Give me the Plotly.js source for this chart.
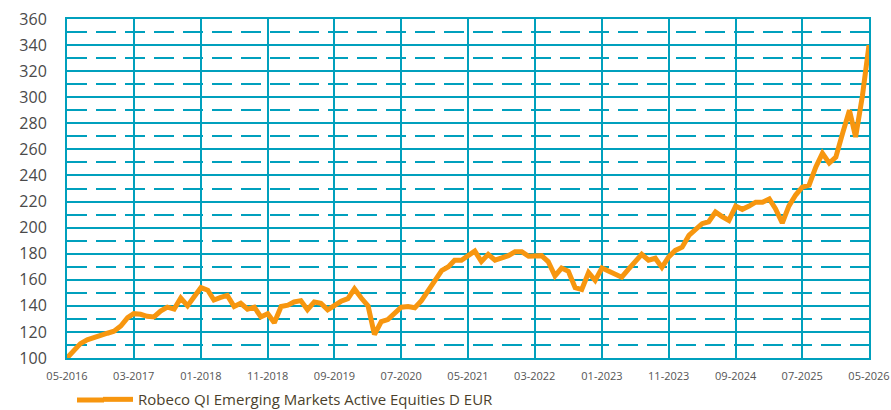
<!DOCTYPE html>
<html>
<head>
<meta charset="utf-8">
<script src="https://cdn.plot.ly/plotly-3.0.1.min.js"></script>
<style>
html,body{margin:0;padding:0;background:#fff;}
#chart{width:891px;height:410px;}
</style>
</head>
<body>
<div id="chart"></div>
<script>
// Monthly index values, 05-2016 .. 05-2026
const seriesName = "Robeco QI Emerging Markets Active Equities D EUR";
const values = [
  100, 106, 111, 114, 116, 117.5, 119, 120.5, 124.5, 131,
  134, 133.5, 132, 131.5, 136, 139, 137.5, 146, 140, 147,
  154, 152, 144.5, 146.5, 148, 139.5, 142, 137.5, 139, 131.5,
  134, 127, 139.5, 140.5, 143, 144, 137, 143, 142, 137,
  140.5, 143.5, 145.5, 153, 146, 140, 118, 128, 129.5, 135,
  139, 139.5, 138.5, 144, 152, 158, 167, 170, 175, 175,
  178.5, 182, 174, 179.5, 175, 176.5, 178.5, 181.5, 181.5, 178,
  178, 178.5, 174, 163, 169, 166.5, 154, 152.5, 165.5, 159.5,
  169, 166.5, 165, 162, 168, 174.5, 179.5, 175, 176.5, 169.5,
  177.5, 182.5, 185, 194, 198, 203, 204.5, 212, 208.5, 205.5,
  216.5, 214, 216.5, 219.5, 219.5, 222, 214.5, 203.5, 216.5, 225,
  231, 232.5, 246.5, 257, 249.5, 254, 272.5, 290, 269.5, 301,
  340
];
const startYear = 2016, startMonth = 5;
const dates = values.map((_, i) => {
  const m = startMonth - 1 + i;
  const y = startYear + Math.floor(m / 12);
  const mm = (m % 12) + 1;
  return y + "-" + String(mm).padStart(2, "0") + "-01";
});
const tickDates = ["2016-05-01","2017-03-01","2018-01-01","2018-11-01","2019-09-01","2020-07-01","2021-05-01","2022-03-01","2023-01-01","2023-11-01","2024-09-01","2025-07-01","2026-05-01"];
const tickLabels = ["05-2016","03-2017","01-2018","11-2018","09-2019","07-2020","05-2021","03-2022","01-2023","11-2023","09-2024","07-2025","05-2026"];
const yTicks = [100,120,140,160,180,200,220,240,260,280,300,320,340,360];

const teal = "#00a0bd";
const orange = "#f7960f";

const trace = {
  x: dates, y: values, type: "scatter", mode: "lines",
  name: seriesName,
  line: {color: orange, width: 5, shape: "linear"},
  hoverinfo: "skip"
};

// plot area: x 67..869, y 19..358
const legX = 31 / 802;       // legend item origin (line drawn 5..35 px inside)
const legLineY = -42 / 339;  // legend line level in paper units

const layout = {
  width: 891, height: 410,
  margin: {l: 67, r: 22, t: 19, b: 52, autoexpand: false},
  paper_bgcolor: "#fff", plot_bgcolor: "#fff",
  font: {family: "Open Sans, Noto Sans, sans-serif", color: "#4a4a4a"},
  showlegend: true,
  legend: {
    orientation: "h", x: legX, xanchor: "left", y: -0.074, yanchor: "top",
    font: {size: 15, color: "#4b3f2b", family: "Open Sans, sans-serif"},
    itemwidth: 30, bgcolor: "rgba(0,0,0,0)"
  },
  shapes: [{
    type: "line", xref: "paper", yref: "paper",
    x0: 10 / 802, x1: 37 / 802, y0: legLineY, y1: legLineY,
    line: {color: orange, width: 5}, layer: "above"
  }],
  xaxis: {
    type: "date",
    range: ["2016-05-01", "2026-05-01"],
    tickvals: tickDates, ticktext: tickLabels,
    tickfont: {size: 11, color: "#555"},
    ticks: "outside", ticklen: 7, tickcolor: "rgba(0,0,0,0)",
    showgrid: true, gridcolor: teal, gridwidth: 2,
    showline: true, linecolor: teal, linewidth: 2, mirror: true,
    zeroline: false, fixedrange: true
  },
  yaxis: {
    range: [100, 360],
    tickvals: yTicks,
    tickfont: {size: 16, color: "#4a4a4a"},
    ticks: "outside", ticklen: 15, tickcolor: "rgba(0,0,0,0)",
    showgrid: true, gridcolor: teal, gridwidth: 2,
    minor: {dtick: 10, tick0: 110, showgrid: true, gridcolor: teal, gridwidth: 2, griddash: "20px,9px"},
    showline: true, linecolor: teal, linewidth: 2, mirror: true,
    zeroline: false, fixedrange: true
  }
};

Plotly.newPlot("chart", [trace], layout, {displayModeBar: false, staticPlot: true});
</script>
</body>
</html>
